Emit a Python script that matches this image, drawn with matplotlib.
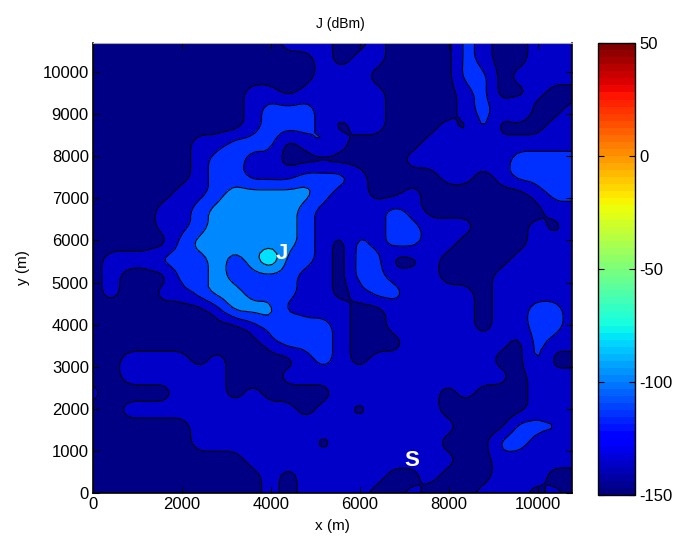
import numpy as np
import matplotlib
matplotlib.use('Agg')
import matplotlib.pyplot as plt
from matplotlib.cm import ScalarMappable
from matplotlib.colors import Normalize

plt.rcParams['font.family'] = ['Liberation Sans', 'DejaVu Sans']
plt.rcParams['axes.unicode_minus'] = False

# map, one digit per grid point, top row first
# the digit picks the power value from band_db
band_db = [-145, -130, -115, -100, -85, -70]
band_rows = [
    "0000000000011100100002100111",
    "0000000000000101100002100111",
    "0000000000000111000002201111",
    "0000000001101111100001200100",
    "0000000001222111100001212001",
    "0000000001222101100010200011",
    "0000001122201210000111111111",
    "0000001221100000001111112222",
    "0000001221112221000011012222",
    "0000011233333211001000000122",
    "0000112333332111121000000011",
    "0000112333332111122111000101",
    "0000023333332102122110000111",
    "0111222323522102200100001111",
    "0100022322221102211100011111",
    "0100112332221101221111011111",
    "0000000133311110011111011221",
    "0000000001232210011111011221",
    "0000000000122210001111110211",
    "0011110100001210111111100200",
    "0011111100011111111111110111",
    "1000011101000011111101000111",
    "0011111111110110111100000101",
    "0000001111111111111110002221",
    "0000001111111011111100022101",
    "0000000001111111111110011111",
    "0000000000101111100100011100",
    "0000000000101111001000111010",
]
x_max = 10760
y_max = 10690
fill_levels = [-150, -137.5, -122.5, -107.5, -92.5, -72.5, -50]
fill_colors = ['#000084', '#0000c8', '#0030ff', '#0088ff', '#00e0ff', '#80ff80']
tick_x = [0, 2000, 4000, 6000, 8000, 10000]
tick_y = list(range(0, 10001, 1000))
bar_ticks = [-150, -100, -50, 0, 50]


def soften(z, rep=4):
    # round off the grid corners so the outlines are not all diamonds
    f = np.kron(z, np.ones((rep, rep)))
    for size in (5, 3):
        k = np.ones(size) / size
        p = size // 2
        for axis in (0, 1):
            pad = [(p, p) if a == axis else (0, 0) for a in (0, 1)]
            g = np.pad(f, pad, mode='edge')
            f = np.apply_along_axis(lambda v: np.convolve(v, k, mode='valid'), axis, g)
    return f


z = np.array([[band_db[int(c)] for c in row] for row in band_rows], dtype=float)
zf = soften(z)
dx = x_max / (z.shape[1] - 1)
dy = y_max / (z.shape[0] - 1)
xs = np.linspace(-dx * 0.375, x_max + dx * 0.375, zf.shape[1])
ys = np.linspace(y_max + dy * 0.375, -dy * 0.375, zf.shape[0])

W, H = 675, 537
fig = plt.figure(figsize=(W / 100, H / 100), dpi=100)
ax = fig.add_axes([93 / W, (H - 493) / H, 479 / W, 450 / H])

ax.contourf(xs, ys, zf, levels=fill_levels, colors=fill_colors)
ax.contour(xs, ys, zf, levels=fill_levels[1:-1], colors='k', linewidths=0.8, linestyles='solid')

ax.set_xlim(0, x_max)
ax.set_ylim(0, y_max)
ax.set_xticks(tick_x)
ax.set_yticks(tick_y)
ax.tick_params(direction='in', top=True, right=True, length=4, width=0.8, labelsize=12, pad=3)
ax.set_xlabel('x (m)', fontsize=11, labelpad=5)
ax.set_ylabel('y (m)', fontsize=11, labelpad=9)
ax.set_title('J (dBm)', fontsize=10, pad=11, x=0.516)
for s in ['left', 'bottom', 'right']:
    ax.spines[s].set_linewidth(1.2)
ax.spines['top'].set_color('#aaaaaa')

ax.text(4250, 5700, 'J', color='w', fontsize=16, fontweight='bold', ha='center', va='center')
ax.text(7170, 780, 'S', color='w', fontsize=16, fontweight='bold', ha='center', va='center')

cax = fig.add_axes([598 / W, (H - 495) / H, 37 / W, 452 / H])
sm = ScalarMappable(norm=Normalize(-150, 50), cmap=plt.get_cmap('jet', 64))
cb = fig.colorbar(sm, cax=cax, ticks=bar_ticks)
cb.ax.tick_params(direction='in', left=True, right=True, length=4, width=0.8, labelsize=12, pad=3)
cb.outline.set_linewidth(1.0)

fig.savefig('out.png', dpi=100)
